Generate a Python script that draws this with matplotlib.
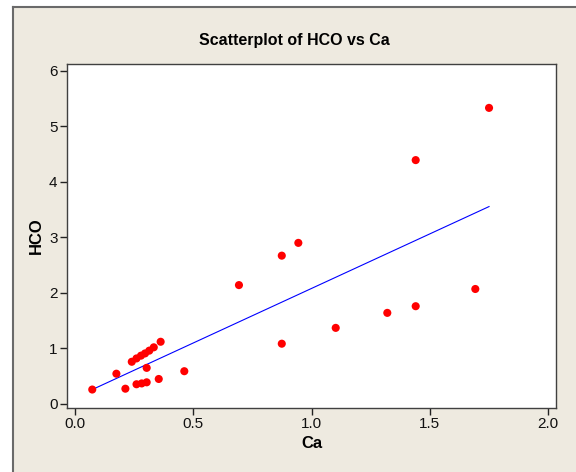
import numpy as np
import matplotlib
matplotlib.use('Agg')
import matplotlib.pyplot as plt
from matplotlib.patches import Rectangle
from matplotlib.lines import Line2D

ca = [0.073, 0.175, 0.213, 0.240, 0.260, 0.279, 0.296, 0.314, 0.333, 0.362,
      0.303, 0.260, 0.282, 0.303, 0.354, 0.462, 0.693, 0.874, 0.944, 0.874,
      1.102, 1.320, 1.440, 1.440, 1.692, 1.750]
hco = [0.26, 0.545, 0.275, 0.76, 0.82, 0.87, 0.91, 0.96, 1.02, 1.12,
       0.65, 0.355, 0.37, 0.39, 0.45, 0.59, 2.14, 2.67, 2.90, 1.085,
       1.37, 1.64, 1.76, 4.39, 2.07, 5.33]
x_ticks = [0.0, 0.5, 1.0, 1.5, 2.0]
y_ticks = [0, 1, 2, 3, 4, 5, 6]

plt.rcParams['font.family'] = ['Liberation Sans', 'DejaVu Sans']

W, H = 576, 472
fig = plt.figure(figsize=(W / 100, H / 100), dpi=100)
fig.patch.set_facecolor('white')

# Minitab-style beige graph window with a dark left/top border
bg = '#EEEAE0'
fig.add_artist(Rectangle((13 / W, 0), 1 - 13 / W, 1 - 7 / H, transform=fig.transFigure,
                         facecolor=bg, edgecolor='none', zorder=0))
fig.add_artist(Line2D([13 / W, 13 / W], [0, 1 - 7 / H], transform=fig.transFigure,
                      color='#6a6a6a', lw=1.5))
fig.add_artist(Line2D([13 / W, 1], [1 - 7 / H, 1 - 7 / H], transform=fig.transFigure,
                      color='#6a6a6a', lw=1.5))

left, right, top, bottom = 67.3, 556, 64, 407.7
ax = fig.add_axes([left / W, 1 - bottom / H, (right - left) / W, (bottom - top) / H])
ax.set_facecolor('white')

ax.scatter(ca, hco, s=34, color='#FF0000', edgecolors='none', zorder=3)

# Least squares fitted line across the data range
slope, intercept = np.polyfit(ca, hco, 1)
xs = np.array([min(ca), max(ca)])
ax.plot(xs, intercept + slope * xs, color='#0000FF', lw=0.8, zorder=2)

ax.set_xlim(-0.0325, 2.033)
ax.set_ylim(-0.067, 6.12)
ax.set_xticks(x_ticks)
ax.set_xticklabels(['%.1f' % t for t in x_ticks])
ax.set_yticks(y_ticks)
ax.tick_params(direction='out', length=5, width=1, color='#222222', pad=2,
               labelsize=11, labelcolor='#111111')

for s in ax.spines.values():
    s.set_color('#404040')
    s.set_linewidth(1)

ax.set_xlabel('Ca', fontsize=12, fontweight='bold', labelpad=3)
ax.set_ylabel('HCO', fontsize=12, fontweight='bold', labelpad=4)
fig.text(294 / W, 1 - 40 / H, 'Scatterplot of HCO vs Ca', ha='center', va='center',
         fontsize=11.5, fontweight='bold')

fig.savefig('out.png', dpi=100, facecolor=fig.get_facecolor())
